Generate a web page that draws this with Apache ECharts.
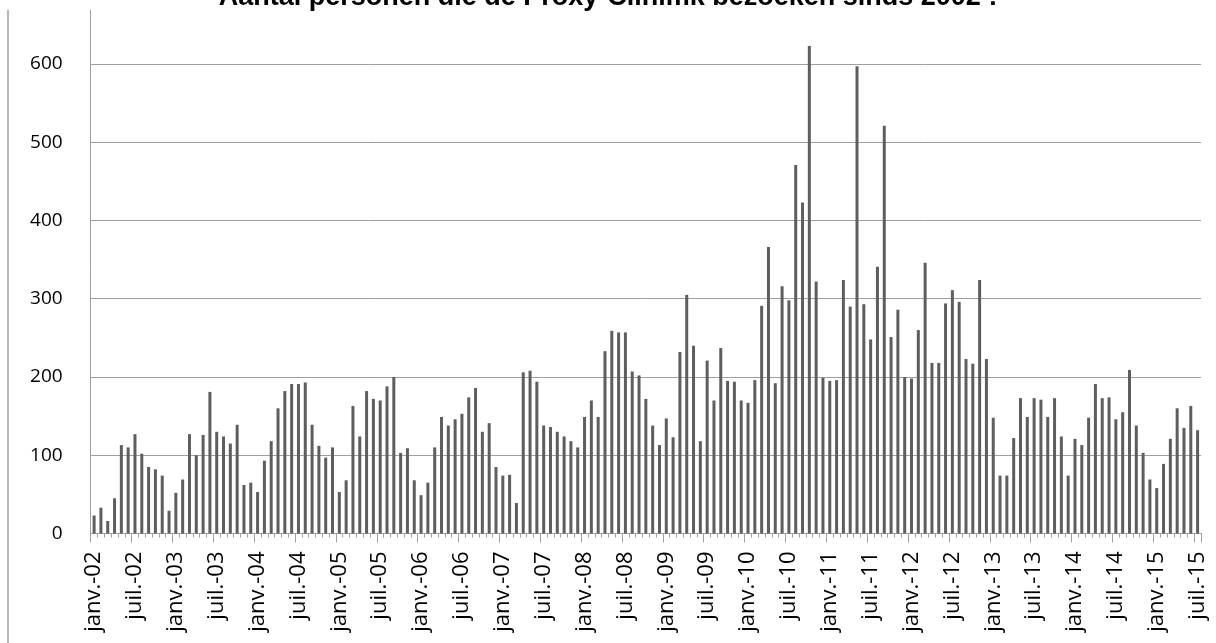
<!DOCTYPE html>
<html>
<head>
<meta charset="utf-8">
<script src="https://cdn.jsdelivr.net/npm/echarts@6/dist/echarts.min.js"></script>
<style>
  html, body { margin: 0; padding: 0; background: #ffffff; }
  #chart { width: 1216px; height: 643px; }
</style>
</head>
<body>
<div id="chart"></div>
<script>
const titleText = 'Aantal personen die de Proxy-Clinimk bezoeken sinds 2002 !';
const monthNames = ['janv.', 'févr.', 'mars', 'avr.', 'mai', 'juin', 'juil.', 'août', 'sept.', 'oct.', 'nov.', 'déc.'];
const years = ['02','03','04','05','06','07','08','09','10','11','12','13','14','15'];
const lastYearMonths = 7; // data runs to juil.-15

const values = [
  23,33,16,45,113,110,127,102,85,82,74,29,52,69,127,100,126,181,130,124,115,
  139,62,65,53,93,118,160,182,191,191,193,139,112,97,110,53,68,163,124,182,172,170,
  188,200,103,109,68,49,65,110,149,138,146,153,174,186,130,141,85,74,75,39,206,
  208,194,138,136,130,124,118,110,149,170,149,233,259,257,257,207,202,172,138,113,147,
  123,232,305,240,118,221,170,237,195,194,170,167,196,291,366,192,316,298,471,423,623,322,
  199,195,196,324,290,597,293,248,341,521,251,286,200,198,260,346,218,218,294,311,296,
  223,217,324,223,148,74,74,122,173,149,173,171,149,173,124,74,121,113,148,191,173,174,
  146,155,209,138,103,69,58,89,121,160,135,163,132
];

const yTickMax = 600;   // highest labelled tick
const yTickStep = 100;
const yAxisTop = 669;   // value reached by the top of the axis line

const categories = [];
years.forEach((y, yi) => {
  const n = yi === years.length - 1 ? lastYearMonths : 12;
  for (let m = 0; m < n; m++) categories.push(monthNames[m] + '-' + y);
});

const chart = echarts.init(document.getElementById('chart'), null, { renderer: 'canvas' });
const labelFont = '"Open Sans", Lato, sans-serif';

const plotLeft = 90.7, plotRight = 15, plotBottom = 109.5, plotTop = 10;
const plotHeight = 643 - plotBottom - plotTop;
const ticksTop = plotTop + plotHeight * (1 - yTickMax / yAxisTop);

chart.setOption({
  animation: false,
  backgroundColor: '#ffffff',
  title: {
    text: titleText,
    left: 'center',
    top: -21,
    textStyle: { fontFamily: '"Liberation Sans", Arial, sans-serif', fontWeight: 'bold', fontSize: 27, color: '#000000' }
  },
  grid: [
    { left: plotLeft, right: plotRight, top: plotTop, bottom: plotBottom, containLabel: false },
    { left: plotLeft, right: plotRight, top: ticksTop, bottom: plotBottom, containLabel: false }
  ],
  xAxis: [
    {
      type: 'category',
      gridIndex: 0,
      data: categories,
      boundaryGap: true,
      position: 'bottom',
      axisLine: { show: true, lineStyle: { color: '#a0a0a0', width: 1 } },
      axisTick: { show: true, interval: 0, length: 4, lineStyle: { color: '#a0a0a0' } },
      axisLabel: {
        interval: 5, rotate: 90, margin: 18,
        fontFamily: labelFont, fontSize: 22, color: '#000000'
      },
      splitLine: { show: false }
    },
    {
      type: 'category',
      gridIndex: 0,
      data: categories,
      boundaryGap: true,
      position: 'bottom',
      axisLine: { show: false },
      axisTick: { show: true, interval: 5, length: 9, lineStyle: { color: '#a0a0a0' } },
      axisLabel: { show: false },
      splitLine: { show: false }
    },
    {
      type: 'category',
      gridIndex: 1,
      data: categories,
      show: false
    }
  ],
  yAxis: [
    {
      type: 'value',
      gridIndex: 0,
      min: 0,
      max: yAxisTop,
      axisLine: { show: true, lineStyle: { color: '#a0a0a0', width: 1 } },
      axisTick: { show: false },
      axisLabel: { show: false },
      splitLine: { show: false }
    },
    {
      type: 'value',
      gridIndex: 1,
      min: 0,
      max: yTickMax,
      interval: yTickStep,
      axisLine: { show: false },
      axisTick: { show: false },
      axisLabel: {
        margin: 28,
        fontFamily: labelFont, fontSize: 19, color: '#000000'
      },
      splitLine: { show: true, lineStyle: { color: '#a0a0a0', width: 1 } }
    }
  ],
  series: [{
    type: 'bar',
    xAxisIndex: 0,
    yAxisIndex: 0,
    data: values,
    barWidth: 3,
    itemStyle: { color: '#5e5e5e' }
  }],
  graphic: [{
    type: 'line',
    shape: { x1: 8, y1: 10, x2: 8, y2: 643 },
    style: { stroke: '#a0a0a0', lineWidth: 1.5 }
  }]
});
</script>
</body>
</html>
